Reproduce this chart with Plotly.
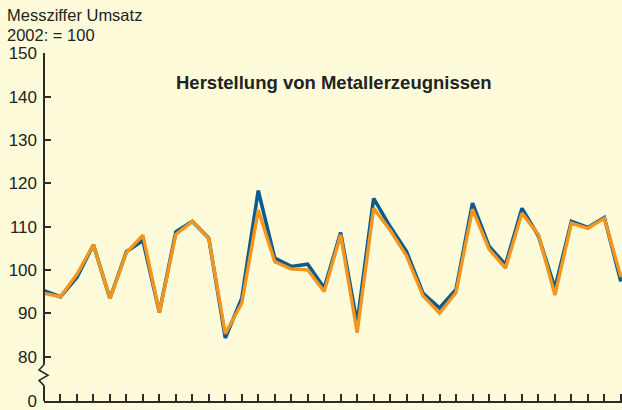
import plotly.graph_objects as go

# --- data (monthly index, 36 months) ---
months = list(range(36))
umsatz_blau = [95.2, 93.8, 98.3, 105.8, 93.4, 104.2, 106.8, 90.2, 108.8, 111.2, 107.3, 84.3,
               93.5, 118.3, 102.7, 100.8, 101.3, 95.8, 108.6, 87.7, 116.5, 110.0, 104.2, 94.6,
               91.2, 95.5, 115.4, 105.5, 101.2, 114.2, 107.8, 95.8, 111.2, 109.8, 112.1, 97.3]
umsatz_orange = [94.6, 93.8, 99.0, 105.8, 93.4, 104.0, 108.0, 90.2, 108.2, 111.2, 107.2, 85.3,
                 92.3, 113.8, 101.9, 100.2, 100.0, 95.0, 108.1, 85.5, 114.2, 109.2, 103.2, 94.0,
                 90.0, 94.8, 114.0, 104.8, 100.4, 113.1, 108.1, 94.2, 110.8, 109.6, 111.9, 98.4]
y_ticks = [69.8, 80, 90, 100, 110, 120, 130, 140, 150]
y_tick_labels = ["0", "80", "90", "100", "110", "120", "130", "140", "150"]
x_ticks = list(range(1, 36))

title_text = "Herstellung von Metallerzeugnissen"
ylabel_1 = "Messziffer Umsatz"
ylabel_2 = "2002: = 100"

BG = "#fefbda"
AX = "#2b2b2b"
BLUE = "#0b5b8f"
ORANGE = "#f4961e"
FONT = "Liberation Sans, Arial, sans-serif"

PLOT_L, PLOT_W = 44, 578
PLOT_B, PLOT_H = 401, 348

fig = go.Figure()
fig.add_trace(go.Scatter(x=months, y=umsatz_blau, mode="lines",
                         line=dict(color=BLUE, width=3.6), hoverinfo="skip"))
fig.add_trace(go.Scatter(x=months, y=umsatz_orange, mode="lines",
                         line=dict(color=ORANGE, width=3.4), hoverinfo="skip"))

ymin = y_ticks[0] - 0.05
fig.update_layout(
    width=622, height=410,
    margin=dict(l=PLOT_L, r=622 - PLOT_L - PLOT_W, t=PLOT_B - PLOT_H, b=410 - PLOT_B, autoexpand=False),
    paper_bgcolor=BG, plot_bgcolor=BG,
    showlegend=False,
    font=dict(family=FONT, color="#222222", size=17),
    xaxis=dict(range=[0, 35.07], tickvals=x_ticks, showticklabels=False,
               ticks="inside", ticklen=7, tickwidth=1.5, tickcolor=AX,
               showline=True, linecolor=AX, linewidth=2, automargin=False,
               showgrid=False, zeroline=False, fixedrange=True),
    yaxis=dict(range=[ymin, 150.05], tickvals=y_ticks, ticktext=y_tick_labels,
               ticks="inside", ticklen=7, tickwidth=1.5, tickcolor=AX,
               ticklabelstandoff=6, automargin=False, ticklabeloverflow="allow",
               showline=False, showgrid=False, zeroline=False, fixedrange=True,
               tickfont=dict(size=17, family=FONT, color="#222222")),
)

# y-axis line with break symbol
z_top, z_bot = 78.1, 73.3
fig.add_shape(type="line", xref="paper", yref="y", x0=0, x1=0, y0=z_top, y1=150.05,
              line=dict(color=AX, width=2))
fig.add_shape(type="line", xref="paper", yref="y", x0=0, x1=0, y0=ymin, y1=z_bot,
              line=dict(color=AX, width=2))
zz_y = [z_top, 76.9, 75.7, 74.5, z_bot]
zz_dx = [0, -5, 4, -5, 0]
path = "M " + " L ".join(f"{dx / PLOT_W:.5f},{yy}" for dx, yy in zip(zz_dx, zz_y))
fig.add_shape(type="path", xref="paper", yref="y", path=path,
              line=dict(color=AX, width=1.6))

def px_x(p):
    return (p - PLOT_L) / PLOT_W

def px_y(p):
    return (PLOT_B - p) / PLOT_H

fig.add_annotation(text=f"<b>{title_text}</b>", xref="paper", yref="paper",
                   x=px_x(333.5), y=px_y(83), xanchor="center", yanchor="middle",
                   showarrow=False, font=dict(size=18.5, family=FONT, color="#222222"))
fig.add_annotation(text=ylabel_1, xref="paper", yref="paper",
                   x=px_x(5), y=px_y(15.5), xanchor="left", yanchor="middle",
                   showarrow=False, font=dict(size=16.5, family=FONT, color="#222222"))
fig.add_annotation(text=ylabel_2, xref="paper", yref="paper",
                   x=px_x(5), y=px_y(34.5), xanchor="left", yanchor="middle",
                   showarrow=False, font=dict(size=16.5, family=FONT, color="#222222"))

fig.write_html("out.html", config={"displayModeBar": False},
               post_script="document.body.style.margin='0';document.body.style.background='" + BG + "';")
